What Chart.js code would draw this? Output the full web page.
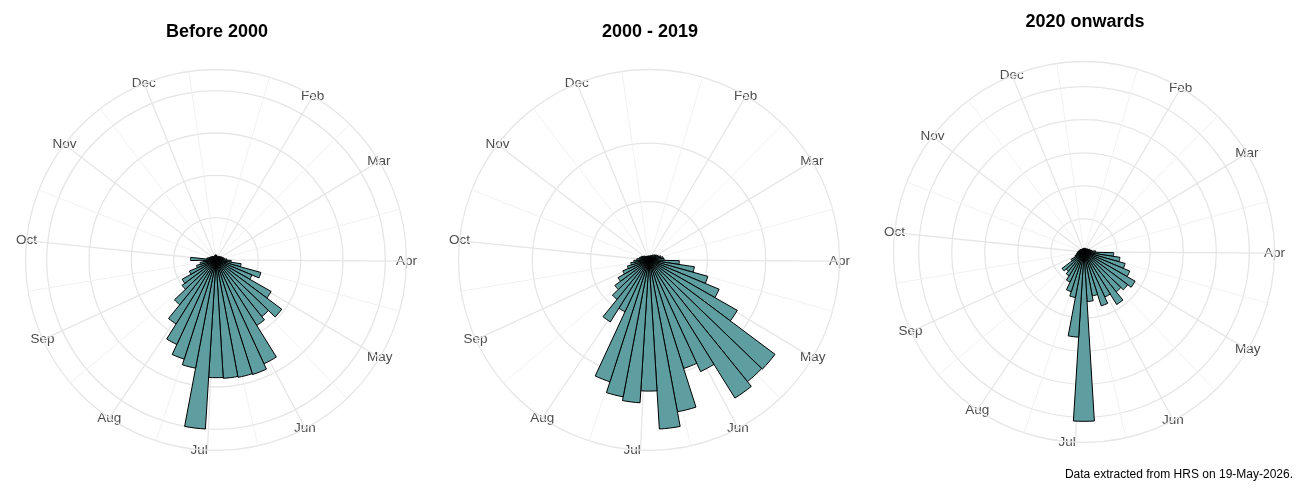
<!DOCTYPE html>
<html><head><meta charset="utf-8">
<script src="https://cdn.jsdelivr.net/npm/chart.js@4.4.1/dist/chart.umd.min.js"></script>
<style>
html,body{margin:0;padding:0;background:#fff;}
body{width:1300px;height:500px;position:relative;overflow:hidden;font-family:"Liberation Sans",Arial,sans-serif;}
.panel{position:absolute;top:0;height:500px;}
#caption{position:absolute;right:7px;top:467px;font-size:12px;line-height:14px;color:#000;white-space:nowrap;}
</style></head><body>
<div class="panel" style="left:0;width:433px"><canvas id="c1" width="433" height="500"></canvas></div>
<div class="panel" style="left:433px;width:433px"><canvas id="c2" width="433" height="500"></canvas></div>
<div class="panel" style="left:866px;width:434px"><canvas id="c3" width="434" height="500"></canvas></div>
<div id="caption">Data extracted from HRS on 19-May-2026.</div>
<script>
// ---- data ----
const panelTitles = ['Before 2000', '2000 - 2019', '2020 onwards'];
const monthNames = ['Feb','Mar','Apr','May','Jun','Jul','Aug','Sep','Oct','Nov','Dec'];
const monthStartDays = [32, 60, 91, 121, 152, 182, 213, 244, 274, 305, 335];
const dayRange = [1.92, 357.0];      // theta axis limits, day of year
const firstBarDay = 1;                // first weekly bar starts on 1 Jan
const weekDays = 7;                   // bar width in days
const radialSteps = [5, 20, 10];      // radial break spacing per panel

const before2000 = [0.6,0.5,0.5,0.4,0.5,0.5,0.6,0.6,0.7,0.8,0.9,1.0,1.3,1.8,3.0,5.5,4.6,7.5,9.7,8.6,
  9.1,13.5,14.2,14.1,14.0,13.9,20.0,13.0,12.3,11.0,8.9,6.8,5.0,4.6,3.4,2.4,1.9,1.5,3.0,1.1,
  0.9,0.8,0.7,0.6,0.6,0.5,0.5,0.5,0.5,0.6,0.6];
const y2000to2019 = [1.4,1.4,1.4,1.7,1.7,2.1,2.4,2.8,3.1,3.5,4.2,4.9,5.2,10.4,15.7,20.9,26.0,34.8,53.9,53.6,
  55.7,42.1,39.0,52.9,58.0,44.9,49.0,47.7,43.8,19.5,25.0,17.4,14.6,12.2,9.7,7.7,6.3,5.2,4.2,3.5,
  3.1,2.8,2.4,2.1,1.7,1.7,1.4,1.4,1.4,1.4,1.4];
const from2020 = [1.2,1.0,1.0,1.2,1.0,1.2,1.3,1.4,1.5,1.8,2.0,2.4,3.5,9.0,11.0,12.9,15.0,17.8,16.5,15.5,
  18.7,15.0,17.1,13.5,15.0,51.2,25.8,14.0,12.6,10.0,8.5,7.5,8.3,4.5,3.0,2.5,2.2,2.0,1.8,1.6,
  1.5,1.4,1.3,1.2,1.2,1.1,1.1,1.0,1.0,1.0,1.1];

// ---- styling ----
const FONT_FAMILY = '"Liberation Sans", Arial, sans-serif';
const LABEL_SIZE = 13.5;
const BAR_FILL = '#5F9EA0';
const BAR_EDGE = '#000000';
const GRID_MAJOR = '#e6e6e6';
const GRID_MINOR = '#efefef';

// ---- theta axis construction ----
const SLOTS_PER_DEG = 4;
const N_SLOTS = 360 * SLOTS_PER_DEG;
const span = dayRange[1] - dayRange[0];
const dayToDeg = d => (d - dayRange[0]) / span * 360;
const barDeg = weekDays / span * 360;
const barOffset = -dayToDeg(firstBarDay);           // bars begin slightly before the axis origin
const nBars = before2000.length;
const barAngles = Array.from({length: nBars}, () => barDeg);
const toSlot = deg => ((Math.round((deg + barOffset) * SLOTS_PER_DEG) % N_SLOTS) + N_SLOTS) % N_SLOTS;
const slotDeg = s => s / SLOTS_PER_DEG - barOffset;

const majorDays = monthStartDays.slice();
const bd = majorDays[1] - majorDays[0];
const ext = [majorDays[0] - bd, ...majorDays, majorDays[majorDays.length - 1] + bd];
const minorDays = [];
for (let i = 0; i < ext.length - 1; i++) minorDays.push((ext[i] + ext[i + 1]) / 2);
const inRange = d => d >= dayRange[0] && d <= dayRange[1];

const spokeKind = new Array(N_SLOTS).fill(0);
minorDays.filter(inRange).forEach(d => { spokeKind[toSlot(dayToDeg(d))] = 1; });
majorDays.filter(inRange).forEach(d => { spokeKind[toSlot(dayToDeg(d))] = 2; });

// month labels: centred on the outer circle like ggplot's coord_polar
const R_EST = 191;
const LINE_H = LABEL_SIZE * 1.2;
const mctx = document.createElement('canvas').getContext('2d');
mctx.font = LABEL_SIZE + 'px ' + FONT_FAMILY;
const slotLabels = new Array(N_SLOTS).fill('');
const slotPads = new Array(N_SLOTS).fill(-60);
monthNames.forEach((name, j) => {
  const deg = dayToDeg(majorDays[j]);
  const a = deg * Math.PI / 180;
  const w = mctx.measureText(name).width, h = LINE_H;
  const cx = R_EST * Math.sin(a), cy = -R_EST * Math.cos(a);
  let b = deg, px = cx, py = cy;
  for (let it = 0; it < 4; it++) {
    const bq = ((Math.round(slotDeg(toSlot(b))) % 360) + 360) % 360;
    const ox = (bq === 0 || bq === 180) ? 0 : (bq < 180 ? w / 2 : -w / 2);
    const oy = (bq === 90 || bq === 270) ? 0 : ((bq < 90 || bq > 270) ? -h / 2 : h / 2);
    px = cx - ox; py = cy - oy;
    b = (Math.atan2(px, -py) * 180 / Math.PI + 360) % 360;
  }
  const slot = toSlot(b);
  slotLabels[slot] = name;
  slotPads[slot] = Math.hypot(px, py) - R_EST;
});

function makeChart(id, title, values, step, layoutPad, titlePad) {
  const maxVal = Math.max(...values);
  const rMax = maxVal * 0.45 / 0.4;
  const breaks = [];
  for (let v = 0; v <= maxVal + 1e-9; v += step) breaks.push(v);
  breaks.push(rMax);
  return new Chart(document.getElementById(id), {
    type: 'polarArea',
    data: {
      labels: slotLabels,
      datasets: [{
        data: values,
        backgroundColor: BAR_FILL,
        borderColor: BAR_EDGE,
        borderWidth: 1,
        angle: ctx => barAngles[ctx.dataIndex]
      }]
    },
    options: {
      responsive: false,
      animation: false,
      events: [],
      layout: {padding: layoutPad},
      plugins: {
        legend: {display: false},
        tooltip: {enabled: false},
        title: {display: true, text: title, color: '#000',
          font: {family: FONT_FAMILY, size: 18, weight: 'bold'}, padding: titlePad}
      },
      scales: {
        r: {
          type: 'radialLinear',
          min: 0, max: rMax, startAngle: -barOffset,
          ticks: {display: false},
          afterBuildTicks: s => { s.ticks = breaks.map(v => ({value: v})); },
          grid: {circular: true, color: GRID_MAJOR, lineWidth: 1.3},
          angleLines: {
            display: true,
            color: c => spokeKind[c.index] === 2 ? GRID_MAJOR : GRID_MINOR,
            lineWidth: c => spokeKind[c.index] === 2 ? 1.3 : (spokeKind[c.index] === 1 ? 0.9 : 0)
          },
          pointLabels: {
            display: true,
            color: '#4d4d4d',
            font: {family: FONT_FAMILY, size: LABEL_SIZE},
            padding: c => slotPads[c.index]
          }
        }
      }
    }
  });
}

makeChart('c1', panelTitles[0], before2000, radialSteps[0],
  {left: 16, right: 15, top: 0, bottom: 35}, {top: 21.2, bottom: 20.2});
makeChart('c2', panelTitles[1], y2000to2019, radialSteps[1],
  {left: 16, right: 15, top: 0, bottom: 35}, {top: 21.2, bottom: 20.2});
makeChart('c3', panelTitles[2], from2020, radialSteps[2],
  {left: 18, right: 14, top: 0, bottom: 42.3}, {top: 11.2, bottom: 22.9});
</script>
</body></html>
